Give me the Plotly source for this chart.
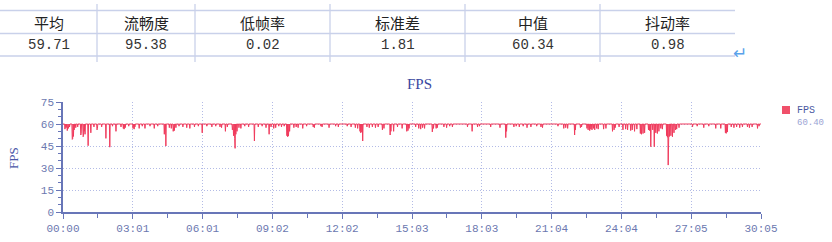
import plotly.graph_objects as go

W, H = 832, 242

# ---------------- data ----------------
table_headers = ["平均", "流畅度", "低帧率", "标准差", "中值", "抖动率"]
table_values = ["59.71", "95.38", "0.02", "1.81", "60.34", "0.98"]

duration_s = 1805
baseline_fps = 60.0   # flat level

dip_time_s = [
    5, 8, 11, 14, 17, 24, 25, 27, 29, 33, 38, 46, 47, 52, 53, 55, 57, 65, 72, 80, 88, 89, 100,
    111, 121, 128, 137, 150, 156, 158, 161, 170, 181, 184, 186,
    197, 205, 212, 225, 236, 245, 262, 266, 275, 280, 285, 288, 292, 300, 310, 320, 328, 340, 350, 360,
    372, 385, 395, 406, 410, 420, 425, 438, 441, 444, 445, 447, 450, 455, 460, 470, 480, 495, 505,
    515, 525, 533, 538,
    545, 550, 558, 565, 572, 579, 581, 583, 586, 597, 603, 608, 620, 630, 647, 650, 667, 670, 688, 705, 712,
    735, 745, 756, 762, 768, 770, 773, 775, 786, 792, 800, 808, 815, 826, 830, 846, 848, 855, 865, 877,
    889, 892, 895,
    912, 920, 925, 930, 935, 955, 958, 965, 968, 985, 992, 1000, 1007, 1046, 1058, 1072, 1077,
    1106, 1130, 1145, 1147, 1166, 1172, 1180, 1190, 1200, 1210, 1225, 1236, 1240,
    1280, 1295, 1300, 1305, 1323, 1325, 1338, 1341, 1355, 1358, 1362, 1365, 1368, 1372, 1375, 1380, 1384,
    1398, 1404, 1421, 1425, 1428, 1438,
    1448, 1455, 1460, 1468, 1472, 1478, 1484, 1493, 1496, 1500, 1504, 1514, 1517, 1520, 1525, 1529, 1533,
    1537, 1541, 1546, 1550, 1561, 1563, 1565, 1568, 1572, 1576, 1580, 1584, 1587, 1593,
    1628, 1640, 1657, 1670, 1688, 1701, 1713, 1715, 1718, 1728, 1735, 1742, 1750, 1757, 1770, 1775, 1782,
    1796, 1800,
]
dip_fps = [
    56.5, 57.5, 55.5, 57, 58, 49.5, 50, 51.5, 56, 57.5, 58, 52.5, 53.5, 51.3, 52, 55, 53, 45.2, 54, 58, 56, 57, 58,
    50.2, 44.2, 58.5, 55, 58, 57, 56.5, 57.5, 58.5, 57, 56.5, 58,
    57, 58.5, 57, 58.5, 57, 58.5, 53, 45, 57.5, 57, 55, 55.5, 57.5, 58.5, 58, 57.5, 57, 58, 58.5, 54,
    58.5, 58, 58.5, 58, 57.5, 55, 58, 56, 52, 50, 43.4, 53, 55, 57.5, 57, 58.5, 58, 48.4, 58,
    58.5, 57.5, 53, 58,
    57, 57.5, 58.5, 58, 58.5, 52, 51.3, 51.8, 55, 57.5, 58, 57.5, 57, 58.5, 58, 57.5, 58.5, 58, 57.5, 58.5, 58,
    58.5, 58, 57.5, 57, 55, 54, 54.5, 48.4, 58, 57.5, 58, 57.5, 58, 56, 57, 52.5, 55, 55, 58, 57,
    55, 55.5, 57,
    58, 57, 56.5, 57.5, 57, 54.6, 57, 57, 57.5, 58, 57.5, 58.5, 58, 58, 55, 58, 58.5,
    58, 57.5, 50.7, 55, 58, 58.5, 58, 58.5, 57.5, 58, 58.5, 58, 57.5,
    58.5, 57, 57.5, 57, 52.5, 56, 57.5, 58, 57, 56, 55.5, 56.5, 56, 57, 56, 57, 56.5,
    56.5, 57, 55, 56, 57.5, 58,
    56, 56.5, 56, 55.5, 56, 55, 56.5, 53.5, 53, 53.5, 54, 56, 55.5, 44.5, 56, 44.5, 54,
    53.5, 55, 57, 56.5, 52, 51, 32, 51.5, 52, 51.3, 54, 56, 56.5, 57.5,
    58, 58.5, 57.5, 58.5, 57, 57, 54, 53.6, 54.5, 58, 57.5, 58, 57.5, 58, 58, 57.5, 58,
    57, 58.5,
]

x_tick_seconds = [0, 180.5, 361, 541.5, 722, 902.5, 1083, 1263.5, 1444, 1624.5, 1805]
x_tick_labels = ["00:00", "03:01", "06:01", "09:02", "12:02", "15:03",
                 "18:03", "21:04", "24:04", "27:05", "30:05"]
y_tick_values = [0, 15, 30, 45, 60, 75]

chart_title = "FPS"
y_title = "FPS"
legend_label = "FPS"
legend_value = "60.40"

# build the series from the read values: flat baseline with the recorded dips
series = {0: baseline_fps, duration_s: baseline_fps}
for t, v in zip(dip_time_s, dip_fps):
    series.setdefault(t - 1, baseline_fps)
    series.setdefault(t + 1, baseline_fps)
for t, v in zip(dip_time_s, dip_fps):
    series[t] = v
time_s = sorted(series)
fps = [series[t] for t in time_s]

# ---------------- helpers (pixel -> paper) ----------------
def PX(x):
    return x / W

def PY(y):
    return 1 - y / H

AXIS_COL = "#6876b8"
TICK_COL = "#6c78b0"
GRID_COL = "#b3bbe6"
LINE_COL = "#f03a5c"
GRID_DASH = "1px,2px"

fig = go.Figure()
fig.add_trace(go.Scatter(x=time_s, y=fps, mode="lines",
                         line=dict(color=LINE_COL, width=1),
                         hoverinfo="skip", showlegend=False))

fig.update_layout(
    template="none",
    width=W, height=H,
    margin=dict(l=0, r=0, t=0, b=0),
    paper_bgcolor="white", plot_bgcolor="white",
    showlegend=False,
    title=dict(text=chart_title, x=PX(419.5), xanchor="center", y=PY(84), yanchor="middle",
               font=dict(family="Liberation Serif", size=15, color="#3a48a0")),
    xaxis=dict(
        domain=[PX(63), PX(761)], range=[0, duration_s],
        tickmode="array", tickvals=x_tick_seconds, ticktext=x_tick_labels,
        showgrid=True, gridcolor=GRID_COL, griddash=GRID_DASH, gridwidth=1,
        showline=True, linecolor=AXIS_COL, linewidth=1.5,
        ticks="outside", ticklen=5, tickcolor=AXIS_COL, tickwidth=1,
        tickfont=dict(family="Liberation Mono", size=11, color=TICK_COL),
        zeroline=False, automargin=False,
        minor=dict(tick0=0, dtick=90.25, ticks="outside", ticklen=4,
                   tickcolor=AXIS_COL, showgrid=False),
    ),
    yaxis=dict(
        domain=[30 / H, 140 / H], range=[0, 75],
        tickmode="array", tickvals=y_tick_values,
        showgrid=True, gridcolor=GRID_COL, griddash=GRID_DASH, gridwidth=1,
        showline=True, linecolor=AXIS_COL, linewidth=1.5,
        ticks="outside", ticklen=5, tickcolor=AXIS_COL, tickwidth=1,
        tickfont=dict(family="Liberation Mono", size=11, color=TICK_COL),
        zeroline=False, automargin=False,
        minor=dict(tick0=0, dtick=5, ticks="outside", ticklen=3,
                   tickcolor=AXIS_COL, showgrid=False),
    ),
)

shapes = []
annotations = []

# ---------------- table ----------------
col_edges = [0, 97, 195, 330, 465, 600, 735]
TBL_COL = "#c9d1ea"
for yy in [10.5, 33.5, 56]:
    shapes.append(dict(type="line", xref="paper", yref="paper",
                       x0=PX(col_edges[0]), x1=PX(col_edges[-1]), y0=PY(yy), y1=PY(yy),
                       line=dict(color=TBL_COL, width=1.3)))
for xx in col_edges[1:-1]:
    shapes.append(dict(type="line", xref="paper", yref="paper",
                       x0=PX(xx), x1=PX(xx), y0=PY(4), y1=PY(62),
                       line=dict(color=TBL_COL, width=1.3)))
for i, (hd, val) in enumerate(zip(table_headers, table_values)):
    cx = (col_edges[i] + col_edges[i + 1]) / 2
    annotations.append(dict(text=hd, x=PX(cx), y=PY(22), xref="paper", yref="paper",
                            xanchor="center", yanchor="middle", showarrow=False,
                            font=dict(family="Noto Sans CJK SC", size=15, color="#222222")))
    annotations.append(dict(text=val, x=PX(cx), y=PY(45), xref="paper", yref="paper",
                            xanchor="center", yanchor="middle", showarrow=False,
                            font=dict(family="Liberation Mono", size=14, color="#333333")))
annotations.append(dict(text="↵", x=PX(740), y=PY(53), xref="paper", yref="paper",
                        xanchor="center", yanchor="middle", showarrow=False,
                        font=dict(family="DejaVu Sans", size=17, color="#5aa2ea")))

# ---------------- y title ----------------
annotations.append(dict(text=y_title, x=PX(13), y=PY(158), xref="paper", yref="paper",
                        xanchor="center", yanchor="middle", showarrow=False, textangle=-90,
                        font=dict(family="Liberation Serif", size=13, color="#4a58a8")))

# ---------------- legend ----------------
shapes.append(dict(type="rect", xref="paper", yref="paper",
                   x0=PX(782), x1=PX(790), y0=PY(106), y1=PY(114),
                   fillcolor="#f0506a", line=dict(width=0)))
annotations.append(dict(text=legend_label, x=PX(795), y=PY(110), xref="paper", yref="paper",
                        xanchor="left", yanchor="middle", showarrow=False,
                        font=dict(family="Liberation Mono", size=10, color="#4a58a0")))
annotations.append(dict(text=legend_value, x=PX(795), y=PY(123), xref="paper", yref="paper",
                        xanchor="left", yanchor="middle", showarrow=False,
                        font=dict(family="Liberation Mono", size=9, color="#9ba4d4")))

fig.update_layout(shapes=shapes, annotations=annotations)
fig.write_html("out.html")
